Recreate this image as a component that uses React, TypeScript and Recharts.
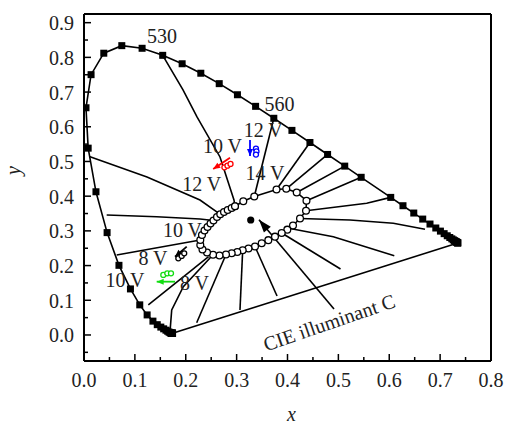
import React from 'react';
import { ComposedChart, Line, XAxis, YAxis, ReferenceDot, ReferenceLine } from 'recharts';

const FONT = '"Liberation Serif", "Times New Roman", serif';

// CIE 1931 spectral locus, 380-700 nm every 5 nm (590 nm is not marked in the figure)
const locusX = [
  0.1741, 0.174, 0.1738, 0.1736, 0.1733, 0.173, 0.1726, 0.1721, 0.1714, 0.1703, 0.1689, 0.1669, 0.1644,
  0.1611, 0.1566, 0.151, 0.144, 0.1355, 0.1241, 0.1096, 0.0913, 0.0687, 0.0454, 0.0235, 0.0082, 0.0039,
  0.0139, 0.0389, 0.0743, 0.1142, 0.1547, 0.1929, 0.2296, 0.2658, 0.3016, 0.3373, 0.3731, 0.4087, 0.4441,
  0.4788, 0.5125, 0.5448, 0.6029, 0.627, 0.6482, 0.6658, 0.6801, 0.6915, 0.7006, 0.7079, 0.714, 0.719,
  0.723, 0.726, 0.7283, 0.73, 0.7311, 0.732, 0.7327, 0.7334, 0.734, 0.7344, 0.7346, 0.7347,
];
const locusY = [
  0.005, 0.005, 0.0049, 0.0049, 0.0048, 0.0048, 0.0048, 0.0048, 0.0051, 0.0058, 0.0069, 0.0086, 0.0109,
  0.0138, 0.0177, 0.0227, 0.0297, 0.0399, 0.0578, 0.0868, 0.1327, 0.2007, 0.295, 0.4127, 0.5384, 0.6548,
  0.7502, 0.812, 0.8338, 0.8262, 0.8059, 0.7816, 0.7543, 0.7243, 0.6923, 0.6589, 0.6245, 0.5896, 0.5547,
  0.5202, 0.4866, 0.4544, 0.3965, 0.3725, 0.3514, 0.334, 0.3197, 0.3083, 0.2993, 0.292, 0.2859, 0.2809,
  0.277, 0.274, 0.2717, 0.27, 0.2689, 0.268, 0.2673, 0.2666, 0.266, 0.2656, 0.2654, 0.2653,
];

const purpleX = [0.1741, 0.7347];
const purpleY = [0.005, 0.2653];

const ellipseX = [
  0.2968, 0.3131, 0.3347, 0.3784, 0.3976, 0.4181, 0.4373, 0.4364, 0.4246, 0.4108, 0.3996, 0.3886, 0.3754,
  0.3623, 0.3493, 0.3361, 0.3233, 0.3119, 0.3013, 0.2903, 0.2791, 0.2663, 0.2536, 0.2418, 0.2329, 0.2286,
  0.2286, 0.2319, 0.2369, 0.2428, 0.2487, 0.2545, 0.2614, 0.2679, 0.2752, 0.2825, 0.2903,
];
const ellipseY = [
  0.3709, 0.3853, 0.3991, 0.4193, 0.4213, 0.4107, 0.387, 0.3582, 0.3357, 0.3156, 0.3035, 0.2939, 0.2833,
  0.2732, 0.2643, 0.255, 0.2493, 0.2441, 0.2392, 0.2354, 0.232, 0.2291, 0.2311, 0.2378, 0.2464, 0.2594,
  0.2738, 0.2882, 0.3012, 0.3112, 0.3213, 0.33, 0.3401, 0.3478, 0.3545, 0.3602, 0.366,
];

const illuminantC = [0.3277, 0.3314];

// lines running from the locus to the ellipse
const radialLines = [
  [[0.1547, 0.8059], [0.1946, 0.7061], [0.2221, 0.6282], [0.2673, 0.513], [0.2948, 0.389], [0.2968, 0.3709]],
  [[0.3731, 0.6245], [0.3347, 0.3991]],
  [[0.4441, 0.5547], [0.3784, 0.4193]],
  [[0.4788, 0.5202], [0.3976, 0.4213]],
  [[0.5125, 0.4866], [0.4181, 0.4107]],
  [[0.5448, 0.4544], [0.4373, 0.387]],
  [[0.6029, 0.3965], [0.5557, 0.3795], [0.4364, 0.3582]],
  [[0.4246, 0.3357], [0.5229, 0.3314], [0.608, 0.3219], [0.6703, 0.3046]],
  [[0.405, 0.307], [0.49, 0.283], [0.6099, 0.2285]],
  [[0.3886, 0.2939], [0.5042, 0.1902]],
  [[0.3361, 0.255], [0.3794, 0.1124]],
  [[0.3119, 0.2441], [0.3066, 0.072]],
  [[0.2791, 0.232], [0.2215, 0.0354]],
  [[0.2536, 0.2311], [0.1952, 0.1392], [0.1724, 0.072], [0.1689, 0.0069]],
  [[0.2449, 0.2256], [0.1264, 0.0865]],
  [[0.2286, 0.2738], [0.0643, 0.2305]],
  [[0.2545, 0.33], [0.228, 0.3343], [0.1429, 0.3409], [0.0446, 0.3458]],
  [[0.2679, 0.3478], [0.228, 0.389], [0.1238, 0.4553], [0.0105, 0.514]],
];

const illumArrow = [[0.4914, 0.0749], [0.344, 0.3323]];

// measured colour points at each voltage (red, blue, black, green)
const groupArrows = [
  [[0.287, 0.511], [0.254, 0.478]],
  [[0.3263, 0.562], [0.3263, 0.516]],
  [[0.2019, 0.2545], [0.1789, 0.2256]],
  [[0.1789, 0.1536], [0.1429, 0.1536]],
];
const groupX = [
  [0.276, 0.282, 0.288],
  [0.338, 0.339, 0.338],
  [0.1854, 0.192, 0.197],
  [0.1559, 0.1637, 0.171],
];
const groupY = [
  [0.483, 0.488, 0.493],
  [0.537, 0.529, 0.52],
  [0.221, 0.2277, 0.2354],
  [0.173, 0.1778, 0.1778],
];
const groupColors = ['#ff0000', '#0000ff', '#000000', '#11dd11'];

const labelText = ['530', '560', '12 V', '10 V', '14 V', '12 V', '10 V', '8 V', '10 V', '8 V'];
const labelX = [0.1533, 0.3843, 0.3524, 0.2722, 0.3558, 0.2313, 0.1936, 0.1356, 0.0806, 0.2172];
const labelY = [0.8406, 0.6464, 0.5715, 0.5236, 0.4467, 0.4141, 0.2816, 0.2017, 0.1375, 0.1297];

const xTicks = [0, 0.05, 0.1, 0.15, 0.2, 0.25, 0.3, 0.35, 0.4, 0.45, 0.5, 0.55, 0.6, 0.65, 0.7, 0.75, 0.8];
const yTicks = [-0.05, 0, 0.05, 0.1, 0.15, 0.2, 0.25, 0.3, 0.35, 0.4, 0.45, 0.5, 0.55, 0.6, 0.65, 0.7, 0.75, 0.8, 0.85, 0.9];

const toPts = (xs: number[], ys: number[]) => xs.map((x, i) => ({ x, y: ys[i] }));
const pairPts = (p: number[][]) => p.map(([x, y]) => ({ x, y }));
const isMajor = (v: number) => Math.abs(v * 10 - Math.round(v * 10)) < 1e-6;

const XTick = (props: any) => {
  const { x, y, payload } = props;
  const v = payload.value;
  return (
    <g>
      <line x1={x} y1={y} x2={x} y2={y - (isMajor(v) ? 7 : 4)} stroke="#000" strokeWidth={1.5} />
      {isMajor(v) && (
        <text x={x} y={y + 26} textAnchor="middle" fontFamily={FONT} fontSize={20} fill="#222">
          {v.toFixed(1)}
        </text>
      )}
    </g>
  );
};

const YTick = (props: any) => {
  const { x, y, payload } = props;
  const v = payload.value;
  return (
    <g>
      <line x1={x} y1={y} x2={x + (isMajor(v) ? 7 : 4)} y2={y} stroke="#000" strokeWidth={1.5} />
      {isMajor(v) && v >= 0 && (
        <text x={x - 10} y={y + 7.5} textAnchor="end" fontFamily={FONT} fontSize={20} fill="#222">
          {v.toFixed(1)}
        </text>
      )}
    </g>
  );
};

const square = (p: any) => (
  <rect key={`sq-${p.index}`} x={p.cx - 3.5} y={p.cy - 3.5} width={7} height={7} fill="#000" />
);

const ring = (color: string, r: number) => (p: any) => (
  <circle key={`c-${p.index}`} cx={p.cx} cy={p.cy} r={r} fill="#fff" stroke={color} strokeWidth={1.3} />
);

// arrowhead drawn at the second point of a two-point line
const arrowHead = (pair: number[][], color: string, len: number, wid: number) => (p: any) => {
  if (p.index !== 1) return <g key={`a-${p.index}`} />;
  const prev = p.points && p.points[0];
  const ang = prev
    ? Math.atan2(p.cy - prev.y, p.cx - prev.x)
    : Math.atan2(-(pair[1][1] - pair[0][1]) * 347, (pair[1][0] - pair[0][0]) * 508.75);
  const c = Math.cos(ang);
  const s = Math.sin(ang);
  const bx = p.cx - len * c;
  const by = p.cy - len * s;
  const pts = `${p.cx},${p.cy} ${bx - (wid / 2) * s},${by + (wid / 2) * c} ${bx + (wid / 2) * s},${by - (wid / 2) * c}`;
  return <polygon key={`a-${p.index}`} points={pts} fill={color} />;
};

const textShape = (text: string) => (p: any) => (
  <text x={p.cx} y={p.cy} textAnchor="middle" fontFamily={FONT} fontSize={20} fill="#222">
    {text}
  </text>
);

const cieShape = (p: any) => (
  <text
    x={p.cx}
    y={p.cy}
    dy="0.35em"
    textAnchor="middle"
    fontFamily={FONT}
    fontSize={20}
    fill="#222"
    transform={`rotate(-19 ${p.cx} ${p.cy})`}
  >
    CIE illuminant C
  </text>
);

export default function App() {
  const ellipse = toPts(ellipseX, ellipseY);
  const ellipseClosed = [...ellipse, ellipse[0]];

  return (
    <div style={{ position: 'absolute', left: 0, top: 0, width: 505, height: 424, background: '#fff' }}>
      <ComposedChart width={505} height={424} margin={{ top: 14, right: 14, left: 0, bottom: 0 }}>
        <XAxis
          dataKey="x"
          type="number"
          domain={[0, 0.8]}
          allowDataOverflow
          ticks={xTicks}
          interval={0}
          tickSize={0}
          tickMargin={0}
          tickLine={false}
          tick={<XTick />}
          height={63}
          axisLine={{ stroke: '#000', strokeWidth: 2 }}
          label={{
            content: (lp: any) => {
              const vb = lp.viewBox || { x: 84, y: 361, width: 407, height: 63 };
              return (
                <text x={vb.x + vb.width / 2 + 4} y={vb.y + 60} textAnchor="middle" fontFamily={FONT} fontStyle="italic" fontSize={20} fill="#222">
                  x
                </text>
              );
            },
          }}
        />
        <YAxis
          dataKey="y"
          type="number"
          domain={[-0.075, 0.925]}
          allowDataOverflow
          ticks={yTicks}
          interval={0}
          tickSize={0}
          tickMargin={0}
          tickLine={false}
          tick={<YTick />}
          width={84}
          axisLine={{ stroke: '#000', strokeWidth: 2 }}
          label={{
            content: (lp: any) => {
              const vb = lp.viewBox || { x: 0, y: 14, width: 84, height: 347 };
              const cx = vb.x + 20;
              const cy = vb.y + vb.height / 2 - 17;
              return (
                <text x={cx} y={cy} textAnchor="middle" fontFamily={FONT} fontStyle="italic" fontSize={20} fill="#222" transform={`rotate(-90 ${cx} ${cy})`}>
                  y
                </text>
              );
            },
          }}
        />
        <ReferenceLine y={0.925} stroke="#000" strokeWidth={2} ifOverflow="visible" />
        <ReferenceLine x={0.8} stroke="#000" strokeWidth={2} ifOverflow="visible" />

        {radialLines.map((seg, i) => (
          <Line
            key={`r-${i}`}
            data={pairPts(seg)}
            dataKey="y"
            type="linear"
            stroke="#000"
            strokeWidth={1.6}
            dot={false}
            activeDot={false}
            isAnimationActive={false}
          />
        ))}

        <Line
          data={toPts(purpleX, purpleY)}
          dataKey="y"
          type="linear"
          stroke="#000"
          strokeWidth={1.6}
          dot={false}
          activeDot={false}
          isAnimationActive={false}
        />

        <Line
          data={pairPts(illumArrow)}
          dataKey="y"
          type="linear"
          stroke="#000"
          strokeWidth={1.6}
          dot={arrowHead(illumArrow, '#000', 13, 9)}
          activeDot={false}
          isAnimationActive={false}
        />

        <Line
          data={toPts(locusX, locusY)}
          dataKey="y"
          type="linear"
          stroke="#000"
          strokeWidth={1.6}
          dot={square}
          activeDot={false}
          isAnimationActive={false}
        />

        <Line
          data={ellipseClosed}
          dataKey="y"
          type="linear"
          stroke="#000"
          strokeWidth={1.6}
          dot={ring('#000', 3.4)}
          activeDot={false}
          isAnimationActive={false}
        />

        {groupArrows.map((arr, i) => (
          <Line
            key={`ga-${i}`}
            data={pairPts(arr)}
            dataKey="y"
            type="linear"
            stroke={groupColors[i]}
            strokeWidth={1.8}
            dot={arrowHead(arr, groupColors[i], 7, 6)}
            activeDot={false}
            isAnimationActive={false}
          />
        ))}
        {groupX.map((xs, i) => (
          <Line
            key={`gp-${i}`}
            data={toPts(xs, groupY[i])}
            dataKey="y"
            type="linear"
            stroke="none"
            dot={ring(groupColors[i], 2.5)}
            activeDot={false}
            isAnimationActive={false}
          />
        ))}

        <ReferenceDot x={illuminantC[0]} y={illuminantC[1]} r={3.6} fill="#000" stroke="none" ifOverflow="visible" />

        {labelText.map((t, i) => (
          <ReferenceDot key={`l-${i}`} x={labelX[i]} y={labelY[i]} r={0} ifOverflow="visible" shape={textShape(t)} />
        ))}
        <ReferenceDot x={0.4818} y={0.036} r={0} ifOverflow="visible" shape={cieShape} />
      </ComposedChart>
    </div>
  );
}
